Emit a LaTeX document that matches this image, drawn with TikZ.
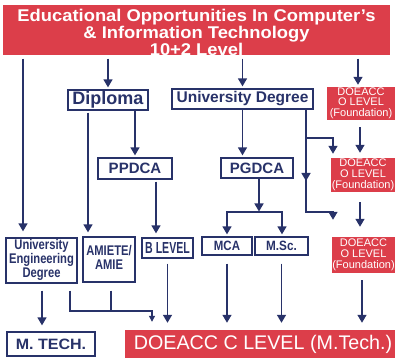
\documentclass[tikz,border=0pt]{standalone}
\usepackage{fontspec}
\setmainfont{Liberation Sans}
\usetikzlibrary{arrows.meta}
\definecolor{navy}{RGB}{40,50,105}
\definecolor{redbox}{RGB}{220,62,74}
\tikzset{
  bx/.style={draw=navy, line width=1.3pt, fill=white, inner sep=0pt, text=navy, font=\bfseries},
  redbx/.style={fill=redbox, draw=none, text=white, inner sep=0pt},
  arr/.style={draw=navy, line width=1.4pt, -{Triangle[length=8pt,width=9pt]}},
  smallarr/.style={draw=navy, line width=1.2pt, -{Triangle[length=6pt,width=6pt]}},
  ln/.style={draw=navy, line width=1.4pt},
}
\newcommand{\stk}[1]{\begin{tabular}{@{}c@{}}#1\end{tabular}}
\begin{document}
\begin{tikzpicture}[x=1pt,y=-1pt]
\useasboundingbox (0,0) rectangle (397,358);
\fill[white] (0,0) rectangle (397,358);

% nodes
\node[redbx, minimum width=387pt, minimum height=50pt] (title) at (196.5,30)
  {\fontsize{17}{15.2}\selectfont\bfseries\raisebox{-4.5pt}[\height][\depth]{\scalebox{1.08}[1]{\stk{Educational Opportunities In Computer's\\ \& Information Technology\\ 10+2 Level}}}};
\node[bx, minimum width=80pt, minimum height=20pt] (diploma) at (108,100) {\fontsize{18}{18}\selectfont Diploma};
\node[bx, minimum width=141pt, minimum height=20pt] (ud) at (242.5,99) {\fontsize{15.5}{15.5}\selectfont University Degree};
\node[redbx, minimum width=68pt, minimum height=33pt] (o1) at (361,103.5) {\fontsize{11}{10}\selectfont\stk{DOEACC\\O LEVEL\\(Foundation)}};
\node[redbx, minimum width=64pt, minimum height=34pt] (o2) at (363,175) {\fontsize{11}{10}\selectfont\stk{DOEACC\\O LEVEL\\(Foundation)}};
\node[redbx, minimum width=63pt, minimum height=36pt] (o3) at (363.5,255) {\fontsize{11}{10}\selectfont\stk{DOEACC\\O LEVEL\\(Foundation)}};
\node[bx, minimum width=74pt, minimum height=21pt] (ppdca) at (135,168.5) {\fontsize{15}{15}\selectfont PPDCA};
\node[bx, minimum width=72pt, minimum height=20pt] (pgdca) at (257,168) {\fontsize{15}{15}\selectfont PGDCA};
\node[bx, minimum width=71pt, minimum height=45pt] (ued) at (41.5,260.5) {\fontsize{14}{13.5}\selectfont\scalebox{0.8}[1]{\stk{University\\Engineering\\Degree}}};
\node[bx, minimum width=52pt, minimum height=45pt] (amiete) at (109,259.5) {\fontsize{14}{14}\selectfont\scalebox{0.8}[1]{\stk{AMIETE/\\AMIE}}};
\node[bx, minimum width=51pt, minimum height=20pt] (blevel) at (167.5,248) {\fontsize{16}{16}\selectfont\scalebox{0.66}[1]{B LEVEL}};
\node[bx, minimum width=50pt, minimum height=18pt] (mca) at (227,246) {\fontsize{13.5}{13.5}\selectfont\scalebox{0.85}[1]{MCA}};
\node[bx, minimum width=53pt, minimum height=18pt] (msc) at (281.5,246) {\fontsize{13.5}{13.5}\selectfont\scalebox{0.87}[1]{M.Sc.}};
\node[bx, minimum width=88pt, minimum height=24pt] (mtech) at (51,344) {\fontsize{15}{15}\selectfont\scalebox{1.07}[1]{M. TECH.}};
\node[redbx, minimum width=270pt, minimum height=28pt] (clevel) at (260,344) {\fontsize{19.7}{20}\selectfont\hspace{6pt}DOEACC C LEVEL (M.Tech.)};

% helper coordinates
\coordinate (xA) at (23,0);
\coordinate (xB) at (88,0);
\coordinate (xC) at (156,0);
\coordinate (xD) at (306,0);
\coordinate (xF) at (360,0);
\coordinate (xG) at (358,0);
\coordinate (xJ) at (111,0);
\coordinate (xL) at (362,0);
\coordinate (xM) at (42,0);
\coordinate (bar) at (259,212);
\coordinate (barL) at (227,212);
\coordinate (barR) at (282,212);
\coordinate (d2) at (333,212);
\coordinate (d3) at (306,138);
\coordinate (m2) at (306,181);
\coordinate (e1) at (70,311);
\coordinate (e2) at (152,311);

% from title
\draw[arr, shorten <=3pt, shorten >=6pt] (title.south -| xA) -- (ued.north -| xA);
\draw[arr, shorten <=3pt, shorten >=2pt] (title.south -| diploma.north) -- (diploma.north);
\draw[arr, shorten <=3pt, shorten >=2pt] (title.south -| ud.north) -- (ud.north);
\draw[arr, shorten <=3pt, shorten >=2pt] (title.south -| xG) -- (o1.north -| xG);

% diploma branch
\draw[arr, shorten >=2pt] (diploma.south -| ppdca.north) -- (ppdca.north);
\draw[arr, shorten <=2pt, shorten >=4pt] (diploma.south -| xB) -- (amiete.north -| xB);
\draw[arr, shorten <=2pt, shorten >=4pt] (ppdca.south -| xC) -- (blevel.north -| xC);

% university degree branch
\draw[arr, shorten >=2pt] (ud.south) -- (pgdca.north -| ud.south);
\draw[arr, shorten >=0.5pt] (pgdca.south -| bar) -- (bar);
\draw[arr, shorten >=2pt] (barR) -| (mca.north -| barL);
\draw[arr, shorten >=2pt] (barL) -| (msc.north -| barR);

\draw[arr, shorten >=17pt] (ud.south -| xD) |- (d2) -- (o3.north -| d2);
\draw[arr, shorten >=4pt] (d3) -| (o2.north -| d2);
\draw[arr] (ud.south -| xD) -- (m2);

% DOEACC column
\draw[arr, shorten <=7pt, shorten >=5pt] (o1.south -| xF) -- (o2.north -| xF);
\draw[arr, shorten <=10pt, shorten >=10pt] (o2.south -| xF) -- (o3.north -| xF);
\draw[arr, shorten <=7pt, shorten >=7pt] (o3.south -| xL) -- (clevel.north -| xL);

% bottom row
\draw[arr, shorten <=7pt, shorten >=6pt] (ued.south -| xM) -- (mtech.north -| xM);
\draw[smallarr, shorten <=7pt, shorten >=8pt] (ued.south -| e1) |- (e2) -- (clevel.north -| e2);
\draw[ln, shorten <=8pt] (amiete.south -| xJ) -- (e1 -| xJ);
\draw[arr, shorten <=5pt, shorten >=7pt] (blevel.south) -- (clevel.north -| blevel.south);
\draw[arr, shorten <=8pt, shorten >=7pt] (mca.south) -- (clevel.north -| mca.south);
\draw[arr, shorten <=8pt, shorten >=7pt] (msc.south) -- (clevel.north -| msc.south);
\end{tikzpicture}
\end{document}
